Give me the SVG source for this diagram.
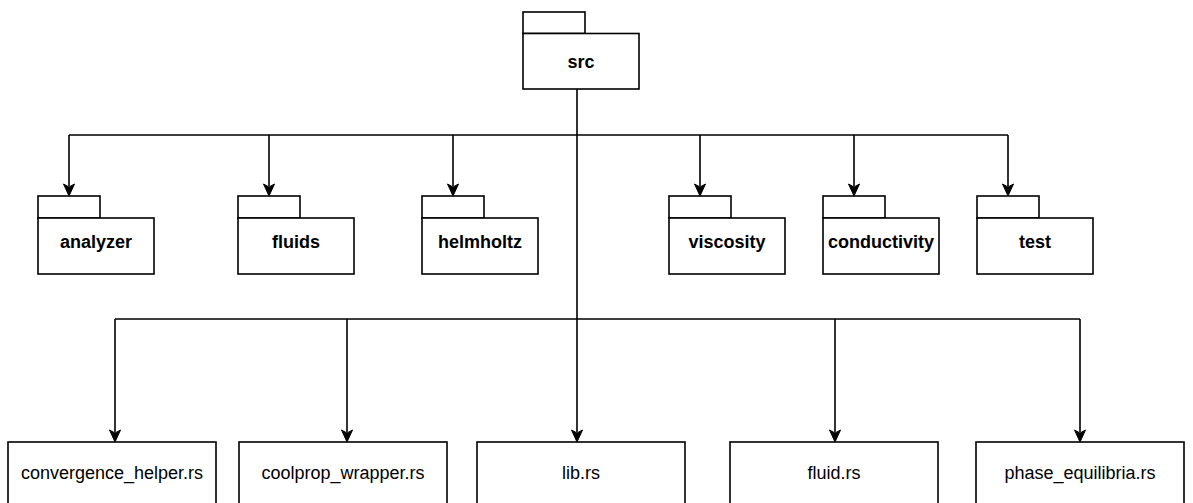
<svg xmlns="http://www.w3.org/2000/svg" width="1193" height="503" viewBox="0 0 1193 503">
  <style>
    .shape { fill: #ffffff; stroke: #000000; stroke-width: 1.6; }
    .edge { fill: none; stroke: #000000; stroke-width: 1.6; }
    .head { fill: #000000; stroke: #000000; stroke-width: 1; }
    .pkg { font-family: "Liberation Sans", Arial, sans-serif; font-size: 18px; font-weight: bold; text-anchor: middle; fill: #000000; }
    .file { font-family: "Liberation Sans", Arial, sans-serif; font-size: 18px; text-anchor: middle; fill: #000000; }
  </style>
  <defs>
    <path id="arrow" class="head" d="M0,0 L-5.5,-12 L0,-9 L5.5,-12 Z"/>
  </defs>
  <rect width="1193" height="503" fill="#ffffff"/>

  <g id="connectors">
    <path class="edge" d="M577,89 V135 M69,135 H1008 M69,135 V186 M269,135 V186 M453,135 V186 M700,135 V186 M854,135 V186 M1008,135 V186"/>
    <path class="edge" d="M577,135 V319 M115,319 H1080 M115,319 V432 M347,319 V432 M577,319 V432 M835,319 V432 M1080,319 V432"/>
    <use href="#arrow" x="69" y="196"/>
    <use href="#arrow" x="269" y="196"/>
    <use href="#arrow" x="453" y="196"/>
    <use href="#arrow" x="700" y="196"/>
    <use href="#arrow" x="854" y="196"/>
    <use href="#arrow" x="1008" y="196"/>
    <use href="#arrow" x="115" y="442"/>
    <use href="#arrow" x="347" y="442"/>
    <use href="#arrow" x="577" y="442"/>
    <use href="#arrow" x="835" y="442"/>
    <use href="#arrow" x="1080" y="442"/>
  </g>

  <g id="src">
    <rect class="shape" x="523" y="12" width="62" height="21.5"/>
    <rect class="shape" x="523" y="33.5" width="116" height="55.5"/>
    <text class="pkg" x="581" y="68">src</text>
  </g>

  <g id="analyzer">
    <rect class="shape" x="38" y="196" width="62" height="22"/>
    <rect class="shape" x="38" y="218" width="116" height="56"/>
    <text class="pkg" x="96" y="248">analyzer</text>
  </g>
  <g id="fluids">
    <rect class="shape" x="238" y="196" width="62" height="22"/>
    <rect class="shape" x="238" y="218" width="116" height="56"/>
    <text class="pkg" x="296" y="248">fluids</text>
  </g>
  <g id="helmholtz">
    <rect class="shape" x="422" y="196" width="62" height="22"/>
    <rect class="shape" x="422" y="218" width="116" height="56"/>
    <text class="pkg" x="480" y="248">helmholtz</text>
  </g>
  <g id="viscosity">
    <rect class="shape" x="669" y="196" width="62" height="22"/>
    <rect class="shape" x="669" y="218" width="116" height="56"/>
    <text class="pkg" x="727" y="248">viscosity</text>
  </g>
  <g id="conductivity">
    <rect class="shape" x="823" y="196" width="62" height="22"/>
    <rect class="shape" x="823" y="218" width="116" height="56"/>
    <text class="pkg" x="881" y="248">conductivity</text>
  </g>
  <g id="test">
    <rect class="shape" x="977" y="196" width="62" height="22"/>
    <rect class="shape" x="977" y="218" width="116" height="56"/>
    <text class="pkg" x="1035" y="248">test</text>
  </g>

  <g id="convergence_helper">
    <rect class="shape" x="8" y="442" width="208" height="64"/>
    <text class="file" x="112" y="479">convergence_helper.rs</text>
  </g>
  <g id="coolprop_wrapper">
    <rect class="shape" x="239" y="442" width="208" height="64"/>
    <text class="file" x="343" y="479">coolprop_wrapper.rs</text>
  </g>
  <g id="lib">
    <rect class="shape" x="477" y="442" width="208" height="64"/>
    <text class="file" x="581" y="479">lib.rs</text>
  </g>
  <g id="fluid">
    <rect class="shape" x="730" y="442" width="208" height="64"/>
    <text class="file" x="834" y="479">fluid.rs</text>
  </g>
  <g id="phase_equilibria">
    <rect class="shape" x="976" y="442" width="208" height="64"/>
    <text class="file" x="1080" y="479">phase_equilibria.rs</text>
  </g>
</svg>
